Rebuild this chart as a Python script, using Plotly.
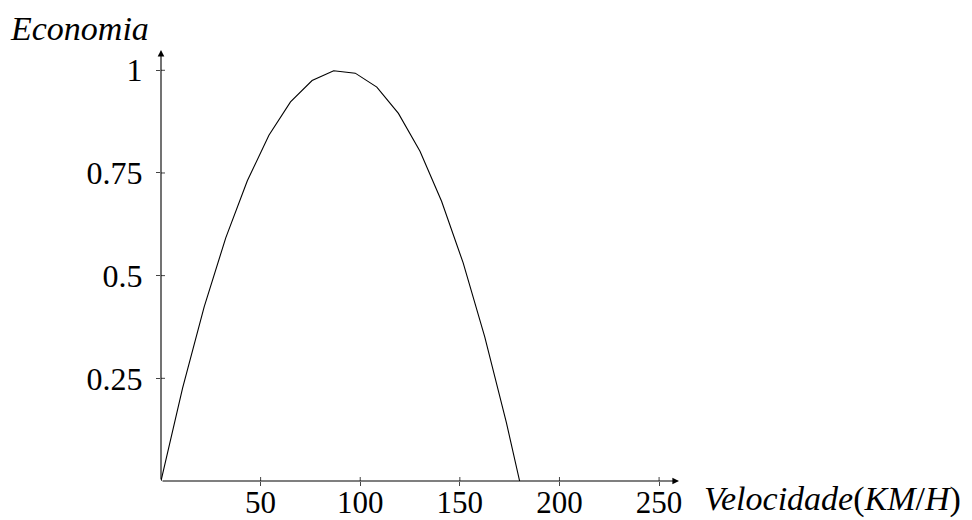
import plotly.graph_objects as go

# Data
velocidade = [0, 10.83, 21.67, 32.5, 43.33, 54.17, 65.0, 75.83, 86.67, 97.5,
              108.33, 119.17, 130.0, 140.83, 151.67, 162.5, 173.33, 180.0]
economia = [0.0, 0.226, 0.424, 0.592, 0.731, 0.842, 0.923, 0.975, 0.999, 0.993,
            0.959, 0.895, 0.803, 0.681, 0.531, 0.351, 0.143, 0.0]

x_ticks = [50, 100, 150, 200, 250]
x_tick_text = ["50", "100", "150", "200", "250"]
y_ticks = [0.25, 0.5, 0.75, 1]
y_tick_text = ["0.25", "0.5", "0.75", "1"]

X_MAX = 260
Y_MAX = 1.0494

FONT = "Liberation Serif"

fig = go.Figure()
fig.add_trace(go.Scatter(x=velocidade, y=economia, mode="lines",
                         line=dict(color="black", width=1.1),
                         hoverinfo="skip", showlegend=False))

fig.update_layout(
    width=972, height=520,
    margin=dict(l=161, r=293, t=50, b=39, autoexpand=False),
    paper_bgcolor="white", plot_bgcolor="white",
    showlegend=False,
    xaxis=dict(range=[0, X_MAX], showgrid=False, zeroline=False, showline=False,
               automargin=False, fixedrange=True,
               tickvals=x_ticks, ticktext=x_tick_text, ticks="outside", ticklen=4,
               tickcolor="#444", tickwidth=1, ticklabelstandoff=-10,
               tickfont=dict(family=FONT, size=31, color="black")),
    yaxis=dict(range=[0, Y_MAX], showgrid=False, zeroline=False, showline=False,
               automargin=False, fixedrange=True,
               tickvals=y_ticks, ticktext=y_tick_text, ticks="outside", ticklen=4,
               tickcolor="#444", tickwidth=1, ticklabelstandoff=7,
               tickfont=dict(family=FONT, size=32, color="black")),
)

# inside halves of the tick marks
shapes = []
for v in x_ticks:
    shapes.append(dict(type="line", xref="x", yref="y", x0=v, x1=v, y0=0, y1=4 / 410.7,
                       line=dict(color="#444", width=1)))
for v in y_ticks:
    shapes.append(dict(type="line", xref="x", yref="y", x0=0, x1=4 / 1.992, y0=v, y1=v,
                       line=dict(color="#444", width=1)))
fig.update_layout(shapes=shapes)

# axes with arrows
fig.add_annotation(x=X_MAX, y=0, ax=0, ay=0, xref="x", yref="y", axref="x", ayref="y",
                   text="", showarrow=True, arrowhead=2, arrowsize=1.2, arrowwidth=1.1,
                   arrowcolor="black")
fig.add_annotation(x=0, y=Y_MAX, ax=0, ay=0, xref="x", yref="y", axref="x", ayref="y",
                   text="", showarrow=True, arrowhead=2, arrowsize=1.2, arrowwidth=1.1,
                   arrowcolor="black")

# axis labels
fig.add_annotation(text="<i>Economia</i>", xref="paper", yref="paper",
                   x=(8 - 161) / 518, y=(481 - 28) / 431, xanchor="left", yanchor="middle",
                   showarrow=False, font=dict(family=FONT, size=34, color="black"))
fig.add_annotation(text="<i>Velocidade</i>(<i>KM</i>/<i>H</i>)", xref="paper", yref="paper",
                   x=(702 - 161) / 518, y=(481 - 499) / 431, xanchor="left", yanchor="middle",
                   showarrow=False, font=dict(family=FONT, size=34, color="black"))

fig.write_html("out.html")
